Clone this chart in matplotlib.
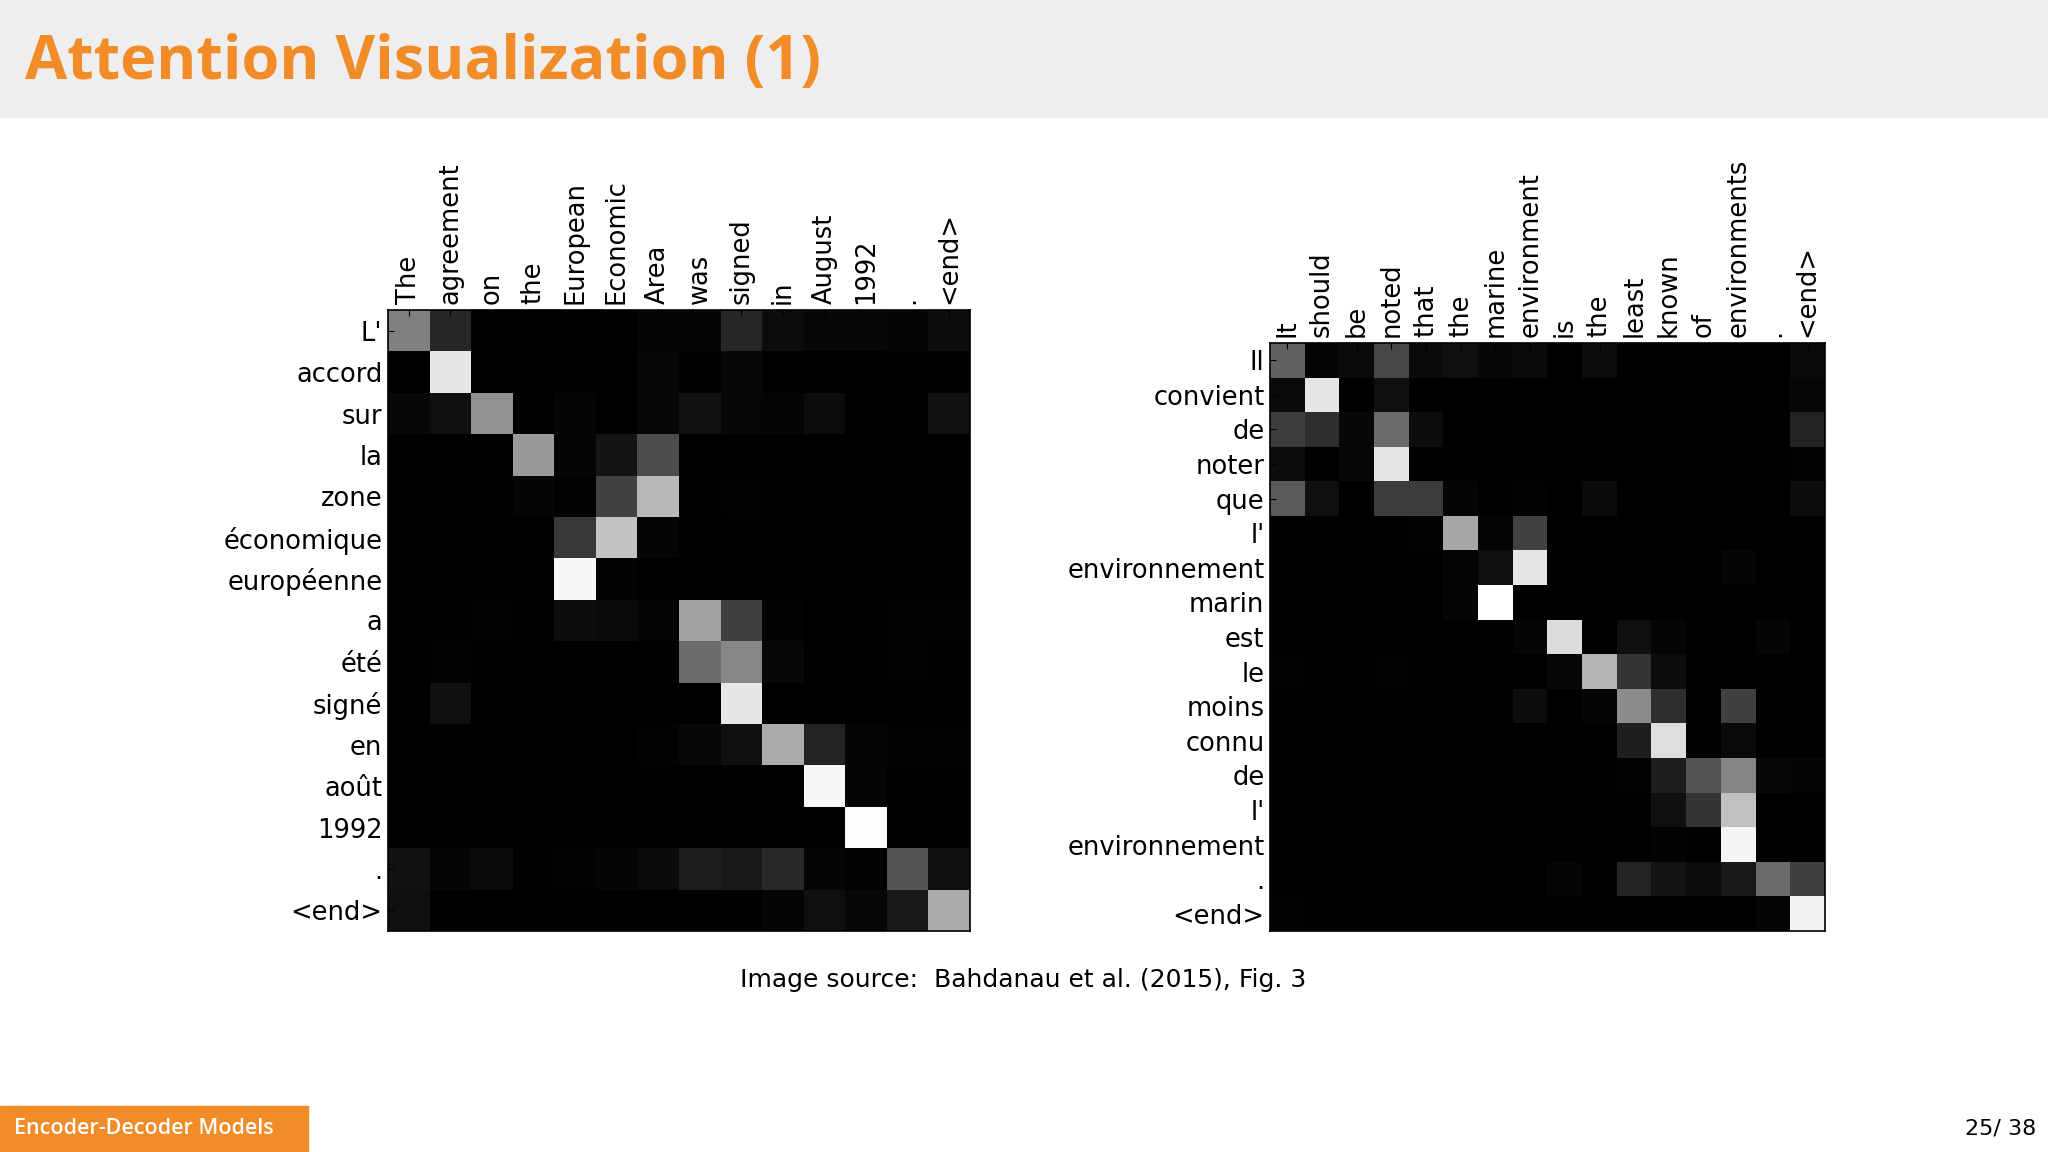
import numpy as np
import matplotlib
matplotlib.use("Agg")
import matplotlib.pyplot as plt
from matplotlib.patches import Rectangle

left_cols = ["The", "agreement", "on", "the", "European", "Economic", "Area", "was", "signed", "in", "August", "1992", ".", "<end>"]
left_rows = ["L'", "accord", "sur", "la", "zone", "économique", "européenne", "a", "été", "signé", "en", "août", "1992", ".", "<end>"]
left_vals = [
    [0.50, 0.15, 0, 0, 0, 0, 0.02, 0.02, 0.15, 0.05, 0.03, 0.03, 0.02, 0.05],
    [0, 0.90, 0, 0, 0, 0, 0.03, 0, 0.03, 0, 0, 0, 0, 0],
    [0.03, 0.06, 0.57, 0, 0.02, 0, 0.03, 0.07, 0.03, 0.02, 0.05, 0, 0, 0.07],
    [0, 0, 0, 0.60, 0.02, 0.08, 0.30, 0, 0, 0, 0, 0, 0, 0],
    [0, 0, 0, 0.02, 0.01, 0.26, 0.72, 0, 0.01, 0, 0, 0, 0, 0],
    [0, 0, 0, 0, 0.22, 0.76, 0.02, 0, 0, 0, 0, 0, 0, 0],
    [0, 0, 0, 0, 0.97, 0.01, 0, 0, 0, 0, 0, 0, 0, 0],
    [0, 0, 0.01, 0, 0.05, 0.04, 0.02, 0.63, 0.25, 0.01, 0, 0, 0.01, 0.01],
    [0, 0.01, 0, 0, 0, 0, 0, 0.42, 0.53, 0.03, 0, 0, 0.01, 0],
    [0, 0.06, 0, 0, 0, 0, 0, 0, 0.90, 0, 0, 0, 0, 0],
    [0, 0, 0, 0, 0, 0, 0.01, 0.03, 0.06, 0.67, 0.14, 0.02, 0.01, 0.01],
    [0, 0, 0, 0, 0, 0, 0, 0, 0, 0, 0.97, 0.02, 0, 0],
    [0, 0, 0, 0, 0, 0, 0, 0, 0, 0, 0, 0.99, 0, 0],
    [0.07, 0.02, 0.04, 0, 0.01, 0.02, 0.04, 0.12, 0.10, 0.16, 0.02, 0.01, 0.33, 0.06],
    [0.06, 0, 0, 0, 0, 0, 0, 0, 0, 0.02, 0.06, 0.03, 0.10, 0.67],
]

right_cols = ["It", "should", "be", "noted", "that", "the", "marine", "environment", "is", "the", "least", "known", "of", "environments", ".", "<end>"]
right_rows = ["Il", "convient", "de", "noter", "que", "l'", "environnement", "marin", "est", "le", "moins", "connu", "de", "l'", "environnement", ".", "<end>"]
right_vals = [
    [0.38, 0.02, 0.04, 0.28, 0.04, 0.06, 0.03, 0.04, 0, 0.05, 0, 0, 0, 0, 0, 0.04],
    [0.04, 0.90, 0, 0.06, 0, 0, 0, 0, 0, 0, 0, 0, 0, 0, 0, 0.03],
    [0.24, 0.18, 0.03, 0.42, 0.05, 0, 0, 0, 0, 0, 0, 0, 0, 0, 0, 0.14],
    [0.05, 0, 0.03, 0.90, 0, 0, 0, 0, 0, 0, 0, 0, 0, 0, 0, 0.01],
    [0.35, 0.06, 0, 0.24, 0.24, 0.02, 0, 0.01, 0, 0.04, 0, 0, 0, 0, 0, 0.05],
    [0, 0, 0, 0, 0.01, 0.65, 0.02, 0.26, 0, 0, 0, 0, 0, 0, 0, 0],
    [0, 0, 0, 0, 0, 0.02, 0.06, 0.90, 0, 0, 0, 0, 0, 0.02, 0, 0],
    [0, 0, 0, 0, 0, 0.02, 1.00, 0, 0, 0, 0, 0, 0, 0, 0, 0],
    [0, 0, 0, 0, 0, 0, 0, 0.02, 0.86, 0, 0.06, 0.02, 0, 0, 0.02, 0],
    [0.01, 0, 0, 0.01, 0, 0, 0, 0, 0.03, 0.70, 0.20, 0.05, 0, 0, 0, 0],
    [0, 0, 0, 0, 0, 0, 0, 0.05, 0, 0.02, 0.55, 0.18, 0, 0.25, 0, 0],
    [0, 0, 0, 0, 0, 0, 0, 0, 0, 0, 0.12, 0.87, 0, 0.04, 0, 0],
    [0, 0, 0, 0, 0, 0, 0, 0, 0, 0, 0.01, 0.12, 0.33, 0.52, 0.03, 0.02],
    [0, 0, 0, 0, 0, 0, 0, 0, 0, 0, 0, 0.06, 0.20, 0.75, 0, 0],
    [0, 0, 0, 0, 0, 0, 0, 0, 0, 0, 0, 0.01, 0, 0.96, 0, 0],
    [0, 0, 0, 0, 0, 0, 0, 0, 0.02, 0, 0.14, 0.08, 0.05, 0.10, 0.42, 0.25],
    [0.01, 0, 0, 0, 0, 0, 0, 0, 0, 0, 0, 0, 0, 0, 0.02, 0.95],
]

plt.rcParams['font.family'] = ['DejaVu Sans']
fig = plt.figure(figsize=(20.48, 11.52), dpi=100)
fig.patch.set_facecolor("white")
orange = "#F28C28"

# title band
fig.add_artist(Rectangle((0, 1 - 117/1152), 1, 117/1152, transform=fig.transFigure, color="#EEEEEE", zorder=0))
fig.text(25/2048, 1 - 64/1152, "Attention Visualization (1)", color=orange, fontsize=44,
         fontweight="bold", family=["Open Sans", "DejaVu Sans"], va="center", ha="left")

def heat(rect, vals, rows, cols):
    ax = fig.add_axes(rect)
    ax.imshow(np.array(vals), cmap="gray", vmin=0, vmax=1, aspect="auto", interpolation="nearest")
    ax.xaxis.tick_top()
    ax.set_xticks(range(len(cols)))
    ax.set_xticklabels(cols, rotation=90, fontsize=18.5)
    ax.set_yticks(range(len(rows)))
    ax.set_yticklabels(rows, fontsize=18.5)
    ax.tick_params(length=4, direction="in", color="black", pad=4)
    for s in ax.spines.values():
        s.set_linewidth(1.2)
    return ax

heat([388/2048, 1 - 931/1152, 582/2048, 621/1152], left_vals, left_rows, left_cols)
heat([1270/2048, 1 - 931/1152, 555/2048, 588/1152], right_vals, right_rows, right_cols)

fig.text(0.4995, 1 - 980/1152, "Image source:  Bahdanau et al. (2015), Fig. 3", fontsize=18, ha="center", va="center")

# footer
fig.add_artist(Rectangle((0, 0), 308/2048, 46/1152, transform=fig.transFigure, color=orange, zorder=0))
fig.text(14/2048, 23/1152, "Encoder-Decoder Models", color="white", fontsize=15.5, fontweight="semibold",
         family=["Open Sans", "DejaVu Sans"], va="center", ha="left")
fig.text(1 - 12/2048, 23/1152, "25/ 38", fontsize=16, va="center", ha="right")

fig.savefig("out.png", dpi=100)
